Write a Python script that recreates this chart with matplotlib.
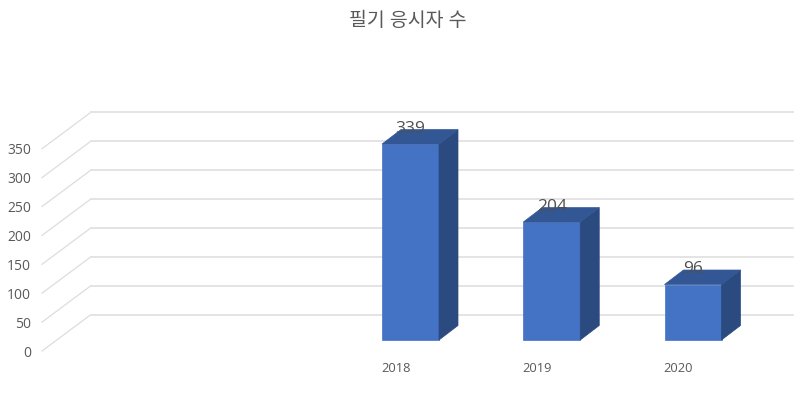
import matplotlib
matplotlib.use('Agg')
import matplotlib.pyplot as plt
from matplotlib.patches import Polygon

plt.rcParams['font.family'] = ['Open Sans', 'Noto Sans CJK KR', 'DejaVu Sans']

title = '필기 응시자 수'
years = ['2018', '2019', '2020']
counts = [339, 204, 96]
y_ticks = [0, 50, 100, 150, 200, 250, 300, 350]

W, H = 795, 415
PX_X = 141.25   # pixels per category
PX_Y = 0.578    # pixels per unit
X0, Y0 = 410.5, 340  # pixel of first category / value 0 on the bar front

fig = plt.figure(figsize=(W / 100, H / 100), dpi=100)
ax = fig.add_axes([0, 0, 1, 1])
ax.set_xlim(-X0 / PX_X, (W - X0) / PX_X)
ax.set_ylim((Y0 - H) / PX_Y, Y0 / PX_Y)
ax.axis('off')

# depth of the fake 3d box, in data units
dx = 19 / PX_X
dy = 14.5 / PX_Y
half = 28.5 / PX_X

# walls: floor lines go from the front edge to the back wall
front_x = (42 - X0) / PX_X
back_x = (91 - X0) / PX_X
right_x = (793 - X0) / PX_X
front_off = -11 / PX_Y
back_off = 25.5 / PX_Y
for v in y_ticks:
    ax.plot([front_x, back_x], [v + front_off, v + back_off], color='#DDDDDD', lw=0.9, zorder=1)
    ax.plot([back_x, right_x], [v + back_off, v + back_off], color='#E2E2E2', lw=1.3, zorder=1)
    ax.text((31 - X0) / PX_X, v + front_off - 2 / PX_Y, str(v), ha='right', va='center',
            fontsize=10, color='#595959')

for i, (year, c) in enumerate(zip(years, counts)):
    l, r = i - half, i + half
    ax.add_patch(Polygon([(l, 0), (r, 0), (r, c), (l, c)], fc='#4472C4', ec='#4472C4', lw=0.5, zorder=3))
    ax.add_patch(Polygon([(r, 0), (r + dx, dy), (r + dx, c + dy), (r, c)], fc='#2A4A80', ec='#2A4A80', lw=0.5, zorder=3))
    ax.add_patch(Polygon([(l, c), (r, c), (r + dx, c + dy), (l + dx, c + dy)], fc='#335795', ec='#335795', lw=0.5, zorder=4))
    ax.text(i, c + 15.5 / PX_Y, str(c), ha='center', va='center', fontsize=12.5, color='#505050', zorder=5)
    ax.text(i - 14.5 / PX_X, -28.5 / PX_Y, year, ha='center', va='center', fontsize=9.3, color='#595959')

ax.text((408 - X0) / PX_X, (Y0 - 20.5) / PX_Y, title, ha='center', va='center', fontsize=14, color='#595959')

fig.savefig('out.png', dpi=100)
